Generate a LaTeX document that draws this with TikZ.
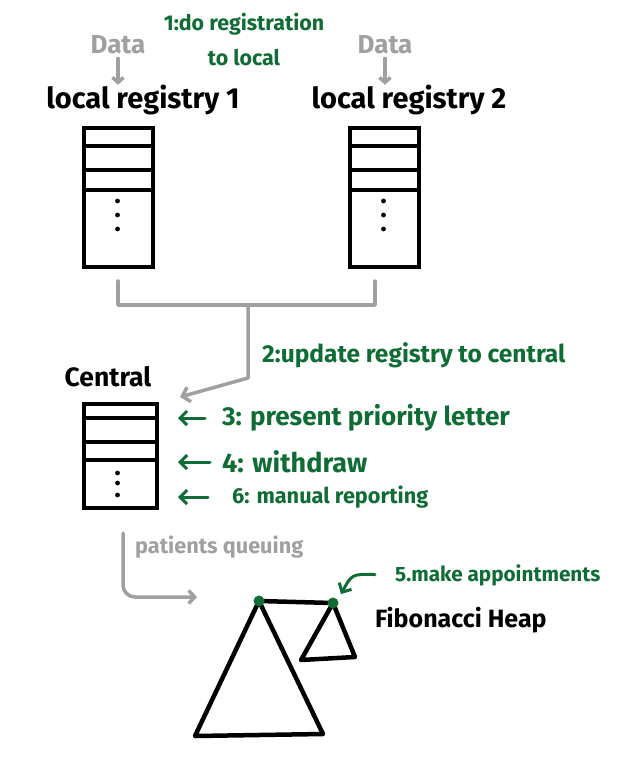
\documentclass[tikz,border=0pt]{standalone}
\usepackage{fontspec}
\setmainfont{Fira Sans}
\usepackage{xcolor}
\usetikzlibrary{arrows.meta}
\definecolor{hgreen}{RGB}{14,108,52}
\definecolor{hgray}{RGB}{160,160,160}
\begin{document}
\begin{tikzpicture}[x=1pt,y=-1pt,
 regbox/.style={draw,line width=4pt,minimum width=69pt,minimum height=139pt,inner sep=0pt},
 cenbox/.style={regbox,minimum width=73pt,minimum height=104pt},
 blab/.style={font=\bfseries\fontsize{#1}{30}\selectfont,inner sep=0pt},
 blab/.default=29,
 glab/.style={hgreen,font=\bfseries\fontsize{#1}{35}\selectfont,inner sep=0pt},
 glab/.default=21,
 graylab/.style={hgray,font=\bfseries\fontsize{#1}{24}\selectfont,inner sep=0pt},
 graylab/.default=22,
 gline/.style={hgray,line width=3.5pt,line cap=round,line join=round},
 garrow/.style={hgreen,line width=3pt,line cap=round,-{Straight Barb[length=7pt,width=14pt]}},
 heap/.style={line width=4.5pt,line join=round}]
\useasboundingbox (0,0) rectangle (622,760);
% local registries
\node[regbox] (reg1) at (118.5,197.5) {};
\node[regbox] (reg2) at (384.5,197.5) {};
\foreach \r in {reg1,reg2}{
  \foreach \d in {20,44,64} \draw[line width=3.5pt] (\r.north west) ++(0,\d) -- ++(69,0);
  \foreach \d in {75,89,103} \fill (\r.north) ++(-1,\d) circle (2.4pt);
}
\node[blab] (lr1) at (143,100) {local registry 1};
\node[blab] (lr2) at (409,100) {local registry 2};
\node[graylab=26] (d1) at (118,45) {Data};
\node[graylab=26] (d2) at (385,45) {Data};
\foreach \d/\l in {d1/lr1,d2/lr2}
  \draw[gline,-{Straight Barb[length=5pt,width=11pt]},shorten <=4pt] (\d.south) -- (\d.south |- \l.north);
% to central
\coordinate (b1) at (118,281);
\coordinate (b2) at (375,281);
\coordinate (mid) at (248,305);
\coordinate (bend) at (248,378);
\coordinate (c2) at (180,397);
\draw[gline] (b1) |- (mid) -| (b2);
\draw[gline,-{Straight Barb[length=7pt,width=15pt]}] (mid) -- (bend) -- (c2);
\node[blab=26.5] (cenlab) at (108,377) {Central};
\node[cenbox] (cen) at (120.5,456) {};
\foreach \d in {16,40,58} \draw[line width=3.5pt] (cen.north west) ++(0,\d) -- ++(73,0);
\foreach \d in {71,81,93} \fill (cen.north) ++(-3,\d) circle (2.4pt);
% steps
\node[glab=21.4,align=center] (t1) at (244,40) {1:do registration\\to local};
\node[glab=24.5,anchor=west] (t2) at (262,355) {2:update registry to central};
\node[glab=26,anchor=west] (t3) at (222,418) {3: present priority letter};
\node[glab=27,anchor=west] (t4) at (222,462) {4: withdraw};
\node[glab=21.7,anchor=west] (t6) at (232,497) {6: manual reporting};
\foreach \t/\s in {t3/17,t4/12,t6/24}
  \draw[garrow,shorten <=\s pt,shorten >=19pt] (\t.west) -- (\t.west -| cen.east);
% queue
\node[graylab=21.7,anchor=west] (pq) at (135,547) {patients queuing};
\coordinate (q1) at (123,533);
\coordinate (q2) at (197,597);
\draw[gline,rounded corners=12pt,-{Straight Barb[length=6pt,width=13pt]}] (q1) |- (q2);
% heap
\coordinate (root1) at (259,601);
\coordinate (root2) at (333,603);
\draw[heap] (root1) -- (195,736) -- (323,734) -- cycle;
\draw[heap] (root2) -- (301,660) -- (355,657) -- cycle;
\draw[heap] (root1) -- (root2);
\fill[hgreen] (root1) circle (5.5pt) (root2) circle (5.5pt);
\node[blab=25,anchor=west] (fib) at (375,620) {Fibonacci Heap};
\node[glab=20.7,anchor=west] (t5) at (395,575) {5.make appointments};
\coordinate (a5) at (341,594);
\draw[garrow,shorten <=20pt] (t5.west) .. controls (352,574) .. (a5);
\end{tikzpicture}
\end{document}
